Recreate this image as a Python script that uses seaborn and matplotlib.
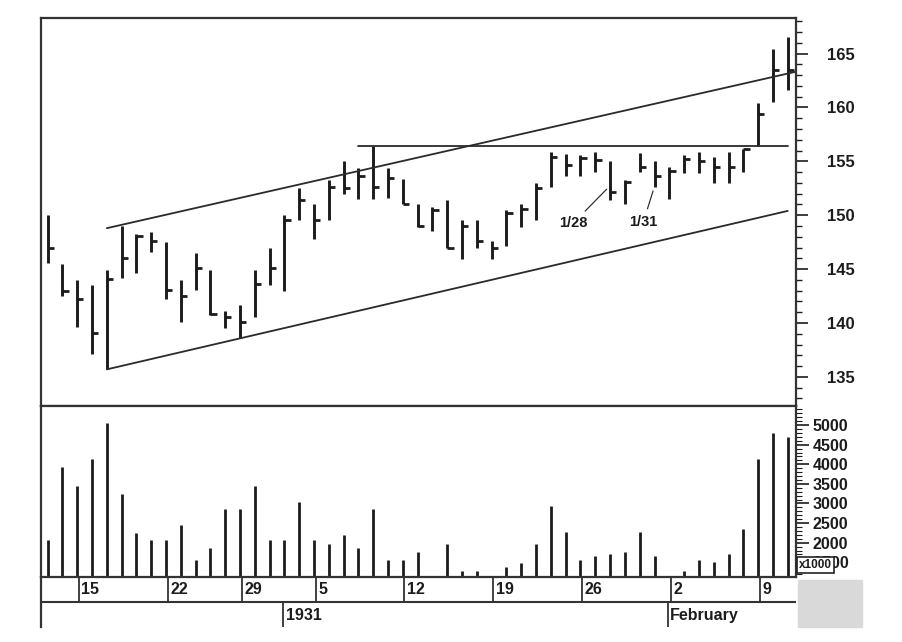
import numpy as np
import matplotlib.pyplot as plt
import seaborn as sns
from matplotlib.patches import Rectangle
from matplotlib.ticker import MultipleLocator, FixedLocator

sns.set_theme(style="white")
plt.rcParams['font.family'] = ['Liberation Sans', 'DejaVu Sans']
plt.rcParams['font.weight'] = 'bold'

# trading days, 12 Dec 1930 - 11 Feb 1931
dates = ["12/12", "12/13", "12/15", "12/16", "12/17", "12/18", "12/19", "12/20",
         "12/22", "12/23", "12/24", "12/26", "12/27", "12/29", "12/30", "12/31",
         "1/2", "1/3", "1/5", "1/6", "1/7", "1/8", "1/9", "1/10",
         "1/12", "1/13", "1/14", "1/15", "1/16", "1/17", "1/19", "1/20",
         "1/21", "1/22", "1/23", "1/24", "1/26", "1/27", "1/28", "1/29",
         "1/30", "1/31", "2/2", "2/3", "2/4", "2/5", "2/6", "2/7",
         "2/9", "2/10", "2/11"]
highs = [150.0, 145.5, 144.0, 143.5, 144.9, 149.0, 148.3, 148.4,
         147.5, 144.0, 146.5, 144.9, 141.1, 141.7, 144.9, 147.0,
         150.0, 152.5, 151.0, 153.3, 155.0, 154.4, 156.4, 154.4,
         153.4, 151.0, 150.8, 151.4, 149.6, 149.6, 147.6, 150.5,
         151.0, 153.0, 155.9, 155.7, 155.6, 155.9, 155.0, 153.3,
         155.8, 155.0, 154.5, 155.6, 155.9, 155.4, 155.9, 156.1,
         160.4, 165.4, 166.5]
lows = [145.6, 142.5, 139.6, 137.1, 135.7, 144.2, 144.6, 146.6,
        142.2, 140.1, 143.1, 140.7, 139.5, 138.6, 140.6, 143.5,
        143.0, 149.6, 147.8, 149.6, 152.0, 151.5, 151.5, 151.6,
        151.0, 148.9, 148.5, 147.0, 145.9, 147.0, 145.9, 147.1,
        148.9, 149.6, 152.6, 153.6, 153.6, 154.0, 151.4, 151.0,
        154.0, 152.6, 151.5, 153.9, 153.9, 153.0, 153.0, 154.0,
        156.4, 160.5, 161.6]
closes = [147.0, 143.0, 142.2, 139.1, 144.1, 146.0, 148.1, 147.6,
          143.1, 142.5, 145.1, 140.8, 140.6, 140.1, 143.6, 145.1,
          149.6, 151.4, 149.6, 152.6, 152.5, 153.6, 152.6, 153.5,
          151.0, 149.0, 150.5, 147.0, 149.0, 147.6, 147.0, 150.2,
          150.6, 152.5, 155.4, 154.7, 155.3, 155.1, 152.2, 153.1,
          154.5, 153.6, 154.1, 155.2, 155.0, 154.5, 154.5, 156.1,
          159.4, 163.5, 163.5]
volume = [2070, 3940, 3450, 4130, 5060, 3240, 2250, 2070,
          2070, 2450, 1560, 1860, 2850, 2850, 3450, 2070,
          2070, 3050, 2070, 1970, 2200, 1860, 2850, 1560,
          1560, 1770, np.nan, 1970, 1280, 1280, np.nan, 1370,
          1480, 1970, 2940, 2280, 1560, 1670, 1710, 1770,
          2280, 1670, np.nan, 1280, 1560, 1520, 1710, 2350,
          4130, 4790, 4690]

# trend channel and resistance line
channel_x = [4, 50.5]
channel_upper = [148.8, 163.3]
lower_x = [4, 50]
channel_lower = [135.7, 150.4]
resist_x = [21, 50]
resist_y = [156.4, 156.4]

week_idx = [2, 8, 13, 18, 24, 30, 36, 42, 48]
week_labels = ["15", "22", "29", "5", "12", "19", "26", "2", "9"]
month_idx = [16, 42]
month_labels = ["1931", "February"]

x = np.arange(len(dates))
ink = '#1c1c1c'
xlim = (-0.45, 50.56)

fig = plt.figure(figsize=(9.02, 6.42), dpi=100)
L, W = 41 / 902, 755 / 902
ax = fig.add_axes([L, 1 - 406 / 642, W, 388 / 642])
axv = fig.add_axes([L, 1 - 577 / 642, W, 171 / 642])
axd = fig.add_axes([L, 1 - 627 / 642, W, 50 / 642])

# price bars
ax.vlines(x, lows, highs, color=ink, lw=2.1)
ax.hlines(closes, x, x + 0.42, color=ink, lw=2.0)
sns.lineplot(x=channel_x, y=channel_upper, ax=ax, color='#2a2a2a', lw=1.3)
sns.lineplot(x=lower_x, y=channel_lower, ax=ax, color='#2a2a2a', lw=1.3)
sns.lineplot(x=resist_x, y=resist_y, ax=ax, color='#2a2a2a', lw=1.3)

ax.annotate("1/28", xy=(37.9, 152.6), xytext=(35.5, 149.25), ha='center', va='center',
            fontsize=10.5, color=ink, arrowprops=dict(arrowstyle='-', lw=0.9, color='#333'))
ax.annotate("1/31", xy=(40.96, 152.5), xytext=(40.25, 149.4), ha='center', va='center',
            fontsize=10.5, color=ink, arrowprops=dict(arrowstyle='-', lw=0.9, color='#333'))

ax.set_xlim(*xlim)
ax.set_ylim(132.3, 168.3)
ax.yaxis.tick_right()
ax.yaxis.set_major_locator(MultipleLocator(5))
ax.yaxis.set_minor_locator(MultipleLocator(1))
ax.set_xticks([])
ax.tick_params(axis='y', which='major', direction='out', length=8.5, width=1.2,
               pad=14, labelsize=12, colors=ink, right=True, left=False)
ax.tick_params(axis='y', which='minor', direction='out', length=4.5, width=1.0,
               right=True, left=False, colors=ink)

# volume
axv.vlines(x, 0, volume, color=ink, lw=2.0)
axv.set_xlim(*xlim)
axv.set_ylim(1125, 5486)
axv.yaxis.tick_right()
axv.yaxis.set_major_locator(FixedLocator(np.arange(1500, 5001, 500)))
axv.yaxis.set_minor_locator(MultipleLocator(100))
axv.set_xticks([])
axv.tick_params(axis='y', which='major', direction='out', length=9, width=1.2,
                pad=3, labelsize=11.5, colors=ink, right=True, left=False)
axv.tick_params(axis='y', which='minor', direction='out', length=4, width=0.8,
                right=True, left=False, colors=ink)

# date rows
axd.set_xlim(*xlim)
axd.set_ylim(0, 2)
axd.set_xticks([])
axd.set_yticks([])
axd.axhline(1, color='#333', lw=1.5)
axd.vlines(np.array(week_idx) + 0.1, 1, 2, color='#333', lw=1.3)
for i, lab in zip(week_idx, week_labels):
    axd.text(i + 0.27, 1.5, lab, ha='left', va='center', fontsize=11.5, color=ink)
axd.vlines(np.array(month_idx) - 0.1, 0, 1, color='#333', lw=1.3)
for i, lab in zip(month_idx, month_labels):
    axd.text(i + 0.07, 0.45, lab, ha='left', va='center', fontsize=11.5, color=ink)

for a in (ax, axv):
    for s in a.spines.values():
        s.set_color('#333')
        s.set_linewidth(1.6)
for s in ('top', 'right', 'bottom'):
    axd.spines[s].set_visible(False)
axd.spines['left'].set_color('#333')
axd.spines['left'].set_linewidth(1.6)
axd.patch.set_alpha(0)

fig.patches.append(Rectangle((798 / 902, 1 - 627 / 642), 64 / 902, 47 / 642,
                             transform=fig.transFigure, color='#d9d9d9', zorder=0))
# the x1000 box sits over the 1500 label, as in the source chart
fig.text(799 / 902, 1 - 565 / 642, "x1000", ha='left', va='center', fontsize=8.5,
         color=ink, zorder=10,
         bbox=dict(boxstyle='square,pad=0.2', facecolor='white', edgecolor='#222', lw=1.2))

fig.savefig("out.png", dpi=100)
